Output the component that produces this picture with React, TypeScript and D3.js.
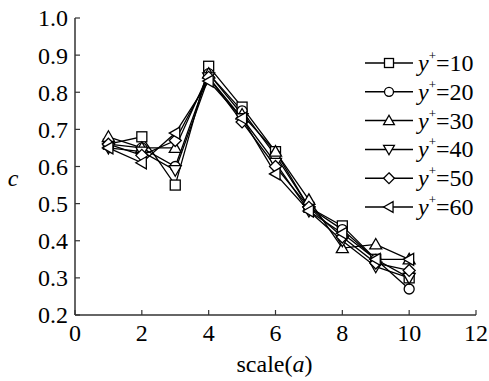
import React from "react";
import * as d3 from "d3";

const scales = [1, 2, 3, 4, 5, 6, 7, 8, 9, 10];
const seriesNames = ["10", "20", "30", "40", "50", "60"];
const markers = ["square", "circle", "up", "down", "diamond", "left"];
const s10 = [0.66, 0.68, 0.55, 0.87, 0.76, 0.64, 0.49, 0.44, 0.35, 0.30];
const s20 = [0.66, 0.65, 0.60, 0.85, 0.75, 0.63, 0.49, 0.43, 0.35, 0.27];
const s30 = [0.68, 0.65, 0.65, 0.85, 0.74, 0.64, 0.51, 0.38, 0.39, 0.35];
const s40 = [0.65, 0.64, 0.59, 0.84, 0.73, 0.61, 0.48, 0.40, 0.33, 0.30];
const s50 = [0.66, 0.63, 0.67, 0.84, 0.72, 0.60, 0.49, 0.41, 0.34, 0.32];
const s60 = [0.65, 0.61, 0.69, 0.83, 0.73, 0.58, 0.48, 0.42, 0.35, 0.35];
const allSeries = [s10, s20, s30, s40, s50, s60];
const xTicks = [0, 2, 4, 6, 8, 10, 12];
const yTicks = [0.2, 0.3, 0.4, 0.5, 0.6, 0.7, 0.8, 0.9, 1.0];

const W = 489, H = 381;
const L = 75, R = 476, T = 18, B = 315;
const font = "Liberation Serif, Times New Roman, serif";

function Marker({ type, x, y, s = 5 }: { type: string; x: number; y: number; s?: number }) {
  const common = { fill: "white", stroke: "black", strokeWidth: 1.3 };
  const t = s * 1.2;
  switch (type) {
    case "square":
      return <rect x={x - s} y={y - s} width={2 * s} height={2 * s} {...common} />;
    case "circle":
      return <circle cx={x} cy={y} r={s} {...common} />;
    case "up":
      return <path d={`M${x},${y - t} L${x + t},${y + t * 0.75} L${x - t},${y + t * 0.75} Z`} {...common} />;
    case "down":
      return <path d={`M${x},${y + t} L${x + t},${y - t * 0.75} L${x - t},${y - t * 0.75} Z`} {...common} />;
    case "diamond":
      return <path d={`M${x},${y - t} L${x + t},${y} L${x},${y + t} L${x - t},${y} Z`} {...common} />;
    case "left":
      return <path d={`M${x - t},${y} L${x + t * 0.75},${y - t} L${x + t * 0.75},${y + t} Z`} {...common} />;
  }
  return null;
}

export default function App() {
  const x = d3.scaleLinear().domain([0, 12]).range([L, R]);
  const y = d3.scaleLinear().domain([0.2, 1.0]).range([B, T]);
  const line = d3
    .line<number>()
    .x((_, i) => x(scales[i]))
    .y((d) => y(d));

  const legendY0 = 63;
  const legendDy = 28.8;

  return (
    <svg width={W} height={H} style={{ position: "absolute", left: 0, top: 0, fontFamily: font }}>
      <rect width={W} height={H} fill="white" />
      <line x1={L} y1={T} x2={L} y2={B} stroke="#333" strokeWidth={1.5} />
      <line x1={L} y1={B} x2={R} y2={B} stroke="#333" strokeWidth={1.5} />
      {yTicks.map((t) => (
        <g key={t}>
          <line x1={L} x2={L + 5} y1={y(t)} y2={y(t)} stroke="#333" strokeWidth={1.2} />
          <text x={L - 7} y={y(t)} dy="0.35em" textAnchor="end" fontSize={24} style={{ fontFamily: font }}>
            {t.toFixed(1)}
          </text>
        </g>
      ))}
      {xTicks.map((t) => (
        <g key={t}>
          <line x1={x(t)} x2={x(t)} y1={B} y2={B - 5} stroke="#333" strokeWidth={1.2} />
          <text x={x(t)} y={B + 26} textAnchor="middle" fontSize={24} style={{ fontFamily: font }}>
            {t}
          </text>
        </g>
      ))}
      <text x={(L + R) / 2 - 1} y={B + 57} textAnchor="middle" fontSize={24} style={{ fontFamily: font }}>
        scale(<tspan fontStyle="italic">a</tspan>)
      </text>
      <text x={13} y={186} textAnchor="middle" fontSize={24} fontStyle="italic" style={{ fontFamily: font }}>
        c
      </text>
      {allSeries.map((vals, k) => (
        <path key={"l" + k} d={line(vals) || ""} fill="none" stroke="black" strokeWidth={1.3} />
      ))}
      {allSeries.map((vals, k) => (
        <g key={"m" + k}>
          {vals.map((v, i) => (
            <Marker key={i} type={markers[k]} x={x(scales[i])} y={y(v)} />
          ))}
        </g>
      ))}
      {seriesNames.map((n, k) => {
        const ly = legendY0 + k * legendDy;
        return (
          <g key={"lg" + k}>
            <line x1={365} x2={413} y1={ly} y2={ly} stroke="black" strokeWidth={1.5} />
            <Marker type={markers[k]} x={389} y={ly} s={4.5} />
            <text x={418} y={ly + 8} fontSize={24} style={{ fontFamily: font }}>
              <tspan fontStyle="italic">y</tspan>
              <tspan fontSize={13} dy={-11}>+</tspan>
              <tspan dy={11}>={n}</tspan>
            </text>
          </g>
        );
      })}
    </svg>
  );
}
